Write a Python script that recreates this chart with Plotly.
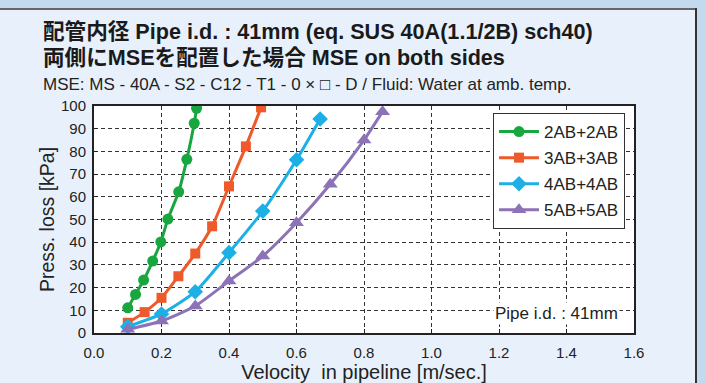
import plotly.graph_objects as go

# ---- data ----
series_names = ["2AB+2AB", "3AB+3AB", "4AB+4AB", "5AB+5AB"]
v_2ab = [0.10, 0.123, 0.147, 0.174, 0.198, 0.219, 0.251, 0.275, 0.297, 0.304]
p_2ab = [11.1, 17.0, 23.3, 31.7, 40.1, 50.2, 62.2, 76.5, 92.4, 99.0]
v_3ab = [0.10, 0.15, 0.20, 0.25, 0.30, 0.35, 0.40, 0.45, 0.495]
p_3ab = [4.5, 9.2, 15.5, 25.0, 35.0, 47.0, 64.6, 82.2, 99.4]
v_4ab = [0.10, 0.20, 0.30, 0.40, 0.50, 0.60, 0.67]
p_4ab = [2.8, 8.4, 18.2, 35.4, 53.7, 76.3, 94.3]
v_5ab = [0.10, 0.20, 0.30, 0.40, 0.50, 0.60, 0.70, 0.80, 0.855]
p_5ab = [1.6, 5.3, 11.9, 22.9, 33.9, 48.6, 65.5, 85.0, 97.5]
x_ticks = [0.0, 0.2, 0.4, 0.6, 0.8, 1.0, 1.2, 1.4, 1.6]
y_ticks = list(range(0, 101, 10))

colors = ["#17a63f", "#ef5a2a", "#1cb0e6", "#8c72b6"]
symbols = ["circle", "square", "diamond", "triangle-up"]
msizes = [11, 10, 12, 13]
xs = [v_2ab, v_3ab, v_4ab, v_5ab]
ys = [p_2ab, p_3ab, p_4ab, p_5ab]

SANS = "Liberation Sans, Arial, sans-serif"
BOLD = "Liberation Sans, Noto Sans CJK JP, sans-serif"

W, H = 706, 383
L, R, T, B = 94, 72, 106, 50
PW, PH = W - L - R, H - T - B

def px(x):
    return (x - L) / PW

def py(y):
    return (H - B - y) / PH

fig = go.Figure()
for i in range(4):
    fig.add_trace(go.Scatter(
        x=xs[i], y=ys[i], name=series_names[i], mode="lines+markers",
        line=dict(color=colors[i], width=3, shape="spline", smoothing=0.6),
        marker=dict(color=colors[i], symbol=symbols[i], size=msizes[i]),
        legendgroup=series_names[i],
    ))

panel = "#e8f1fb"
outer = "#c3daee"
shapes = [
    dict(type="rect", xref="paper", yref="paper", x0=px(-5), x1=px(W + 5), y0=py(8), y1=py(-5),
         fillcolor=outer, line=dict(width=0), layer="below"),
    dict(type="rect", xref="paper", yref="paper", x0=px(697), x1=px(W + 5), y0=py(H + 5), y1=py(-5),
         fillcolor=outer, line=dict(width=0), layer="below"),
    dict(type="line", xref="paper", yref="paper", x0=px(-5), x1=px(697), y0=py(9), y1=py(9),
         line=dict(color="#666666", width=2)),
    dict(type="line", xref="paper", yref="paper", x0=px(696), x1=px(696), y0=py(8), y1=py(H + 5),
         line=dict(color="#333333", width=2)),
]

annotations = [
    dict(text="<b>配管内径 Pipe i.d. : 41mm (eq. SUS 40A(1.1/2B) sch40)</b>", x=px(41), y=py(31),
         xref="paper", yref="paper", xanchor="left", yanchor="middle", showarrow=False,
         font=dict(family=BOLD, size=21.6, color="#1a1a1a")),
    dict(text="<b>両側にMSEを配置した場合 MSE on both sides</b>", x=px(41), y=py(58),
         xref="paper", yref="paper", xanchor="left", yanchor="middle", showarrow=False,
         font=dict(family=BOLD, size=21.6, color="#1a1a1a")),
    dict(text="MSE: MS - 40A - S2 - C12 - T1 - 0 × □ - D / Fluid: Water at amb. temp.", x=px(41), y=py(85),
         xref="paper", yref="paper", xanchor="left", yanchor="middle", showarrow=False,
         font=dict(family=SANS, size=17, color="#222222")),
    dict(text="Pipe i.d. : 41mm", x=px(556), y=py(313), xref="paper", yref="paper",
         xanchor="center", yanchor="middle", showarrow=False, bgcolor="white",
         font=dict(family=SANS, size=17, color="#222222")),
]

fig.update_layout(
    width=W, height=H, margin=dict(l=L, r=R, t=T, b=B, autoexpand=False),
    paper_bgcolor=panel, plot_bgcolor="white",
    shapes=shapes, annotations=annotations,
    showlegend=True,
    legend=dict(x=px(493), y=py(113), xanchor="left", yanchor="top",
                bgcolor="white", bordercolor="#333333", borderwidth=1,
                font=dict(family=SANS, size=17, color="#222222"),
                traceorder="grouped", tracegroupgap=1, itemwidth=40),
    xaxis=dict(range=[0, 1.6], tickvals=x_ticks, ticktext=[f"{v:.1f}" for v in x_ticks],
               showgrid=True, gridcolor="#333333", gridwidth=1, griddash="4px,3px",
               showline=True, linecolor="#222222", linewidth=2, mirror=True,
               ticks="inside", ticklen=4, tickcolor="#222222", zeroline=False,
               ticklabelstandoff=5, automargin=False,
               tickfont=dict(family=SANS, size=15, color="#222222"),
               title=dict(text="Velocity  in pipeline [m/sec.]", standoff=8,
                          font=dict(family=SANS, size=20, color="#222222"))),
    yaxis=dict(range=[0, 100], tickvals=y_ticks,
               showgrid=True, gridcolor="#333333", gridwidth=1, griddash="4px,3px",
               showline=True, linecolor="#222222", linewidth=2, mirror=True,
               ticks="inside", ticklen=4, tickcolor="#222222", zeroline=False,
               ticklabelstandoff=3, automargin=False,
               tickfont=dict(family=SANS, size=15, color="#222222"),
               title=dict(text="Press. loss [kPa]", standoff=1,
                          font=dict(family=SANS, size=19.5, color="#222222"))),
)

fig.write_html("out.html")
